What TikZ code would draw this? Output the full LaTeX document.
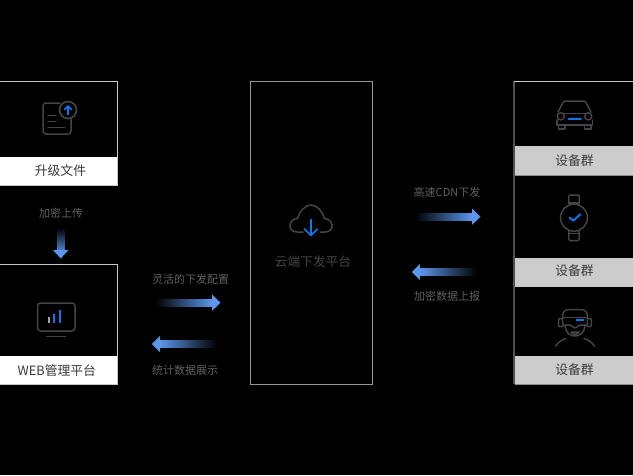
\documentclass[tikz,border=0pt]{standalone}
\usepackage{fontspec}
\setmainfont{Noto Sans CJK SC}
\definecolor{iconc}{HTML}{444444}
\definecolor{blueic}{HTML}{0A78F0}
\definecolor{arrowc}{HTML}{5A96EC}
\definecolor{dimtext}{HTML}{606060}
\definecolor{bandtext}{HTML}{3A3A3A}
\definecolor{edgelight}{HTML}{C8C8C8}
\definecolor{edgedark}{HTML}{505050}
\definecolor{greyband}{HTML}{CCCCCC}
\tikzset{
  icon/.style={draw=iconc,line width=1.5pt,line cap=round,line join=round},
  blueline/.style={draw=blueic,line width=1.7pt,line cap=round,line join=round},
  panel/.style={draw=edgelight,line width=1.1pt,fill=black,inner sep=0pt,anchor=north west},
  band/.style={draw=none,inner sep=0pt,anchor=north west},
  bandlab/.style={inner sep=0pt,text=bandtext,font=\fontsize{12.8}{15}\selectfont},
  lab/.style={text=dimtext,inner sep=0pt,font=\fontsize{11}{13}\selectfont},
  head/.style={fill=arrowc,draw=none},
}
% horizontal gradient arrow: tail x, base x, tip x, y, left colour, right colour
\newcommand{\hgrad}[6]{%
  \shade[left color=#5,right color=#6,draw=none] (#1,#4-3.4) rectangle (#2,#4+3.4);
  \fill[head] (#2,#4-8.2) -- (#3,#4) -- (#2,#4+8.2) -- cycle;}
\begin{document}
\begin{tikzpicture}[x=1pt,y=-1pt]
\useasboundingbox (0,0) rectangle (633,475);
\fill[black] (0,0) rectangle (633,475);

% left panels
\node[panel,minimum width=120pt,minimum height=103.5pt] (upgrade) at (-3,81) {};
\node[band,fill=white,minimum width=117pt,minimum height=28pt] (upgradeband) at (0,157) {};
\node[bandlab] (upgradelab) at (60.5,171) {升级文件};
\node[panel,minimum width=120pt,minimum height=119.5pt] (web) at (-3,264) {};
\node[band,fill=white,minimum width=117pt,minimum height=28pt] (webband) at (0,356) {};
\node[bandlab] (weblab) at (56.8,371) {WEB管理平台};

% centre panel
\node[panel,draw=edgelight!75!black,minimum width=121.5pt,minimum height=302.5pt] (cloud) at (250,81) {};
\node[text=iconc,inner sep=0pt,font=\fontsize{12.7}{15}\selectfont] (cloudlabel) at (313,261.5) {云端下发平台};

% right panel
\fill[black] (514,81) rectangle (633,384);
\node[band,fill=greyband,minimum width=119pt,minimum height=29pt] (band1) at (514,146) {};
\node[band,fill=greyband,minimum width=119pt,minimum height=28pt] (band2) at (514,258) {};
\node[band,fill=greyband,minimum width=119pt,minimum height=28pt] (band3) at (514,356) {};
\node[bandlab] (dev1) at (574.5,160.5) {设备群};
\node[bandlab] (dev2) at (574.5,270.5) {设备群};
\node[bandlab] (dev3) at (574.5,370) {设备群};
\draw[edgedark,line width=1.1pt] (514,81) -- (514,384);
\draw[edgelight,line width=0.9pt] (514,81) -- (633,81);
\draw[edgelight!70!black,line width=0.8pt] (514.5,175) -- (633,175);
\draw[edgelight,line width=0.8pt] (514.5,286) -- (633,286);
\draw[edgelight!70!black,line width=0.8pt] (514.5,384) -- (633,384);

% labels
\node[lab] (l1) at (61,213) {加密上传};
\node[lab] (l2) at (190.5,279) {灵活的下发配置};
\node[lab] (l3) at (185,370.5) {统计数据展示};
\node[lab] (l4) at (447,192.5) {高速CDN下发};
\node[lab] (l5) at (447,296) {加密数据上报};

% gradient arrows
\shade[top color=black,bottom color=arrowc!85!black,draw=none] (56.8,228) rectangle (64.5,250);
\fill[head] (53,250) -- (68.5,250) -- (60.7,258.5) -- cycle;
\hgrad{155}{212}{220.5}{302.7}{black}{arrowc}
\hgrad{217}{160}{152}{344}{arrowc}{black}
\hgrad{415}{472}{480.5}{216.7}{black}{arrowc}
\hgrad{477}{420}{412}{272}{arrowc}{black}

% document icon
\draw[icon,rounded corners=3pt] (60,103) -- (43,103) -- (43,134) -- (71,134) -- (71,119);
\draw[icon] (48,115.5) -- (56,115.5) (48,121.5) -- (56,121.5) (48,127.5) -- (64.5,127.5);
\draw[icon,line width=1.7pt] (68,110) circle[radius=8.5];
\draw[blueline] (68,114.5) -- (68,106) (64.5,109.5) -- (68,106) -- (71.5,109.5);

% monitor icon
\draw[icon,rounded corners=3pt] (37.5,303) rectangle (75,331);
\draw[icon] (47,336.5) -- (65.5,336.5);
\draw[draw=gray!70,line width=2pt] (48.7,317) -- (48.7,323);
\draw[draw=blueic,line width=2pt] (54.3,314) -- (54.3,323);
\draw[draw=blueic,line width=2pt] (60,310) -- (60,323);

% cloud icon
\draw[icon] (303,232) -- (297,232) .. controls (287,232) and (288,219) .. (297.5,218.5) .. controls (299,212) and (305,205) .. (311,205) .. controls (317,205) and (323,212) .. (324.5,218.5) .. controls (334,219) and (335,232) .. (325,232) -- (320,232);
\draw[blueline] (311,219.5) -- (311,235.5) (304.5,229) -- (311,235.5) -- (317.5,229);

% car icon
\draw[icon] (558,112) -- (563,102.5) -- (565,101) -- (584,101) -- (586,102.5) -- (591,112);
\draw[icon] (564.5,113.5) -- (584.5,113.5);
\draw[icon] (557,120) -- (557,125) -- (592.5,125) -- (592.5,120);
\draw[icon] (560.8,116.3) circle[radius=3.6] (588.2,116.3) circle[radius=3.6];
\draw[icon] (558.5,125) -- (558.5,129) -- (565,129) -- (565,125) (584.5,125) -- (584.5,129) -- (591,129) -- (591,125);
\draw[blueline] (568.5,119.3) -- (581,119.3);

% watch icon
\draw[icon] (574,217.7) circle[radius=13.5];
\draw[icon,rounded corners=1.5pt] (569,204) -- (568.5,195) -- (579.5,195) -- (579,204);
\draw[icon] (568.5,203) -- (579.5,203);
\draw[icon,rounded corners=1.5pt] (569,231) -- (568.5,240.5) -- (579.5,240.5) -- (579,231);
\draw[icon] (568.5,233.5) -- (579.5,233.5);
\draw[blueline,line width=1.9pt] (569.5,217.5) -- (573.3,220.7) -- (580.5,214.2);

% VR icon
\draw[icon] (562.7,325) -- (562.7,316) .. controls (562.7,312) and (565,309.5) .. (569,309.5) -- (581,309.5) .. controls (585,309.5) and (587.3,312) .. (587.3,316) -- (587.3,325);
\draw[icon] (562.7,317.5) -- (587.3,317.5);
\draw[icon] (562.7,325) -- (570,325) .. controls (572,325) and (573,328) .. (575,328) .. controls (577,328) and (578,325) .. (580,325) -- (587.3,325);
\draw[icon,rounded corners=1pt] (562.7,318.5) -- (558.5,318.5) -- (558.5,326.5) -- (562.7,326.5);
\draw[icon,rounded corners=1pt] (587.3,318.5) -- (591.3,318.5) -- (591.3,326.5) -- (587.3,326.5);
\draw[icon] (565,326) .. controls (566,333) and (570,336) .. (575,336) .. controls (580,336) and (584,333) .. (585,326);
\draw[icon] (571,332) .. controls (572,335) and (578,335) .. (579,332) -- cycle;
\draw[icon] (555.5,346) .. controls (559,341) and (564,339) .. (566,338.5);
\draw[icon] (584,338.5) .. controls (586,339) and (591,341) .. (594.5,346);
\draw[blueline] (576.5,319.7) -- (583.5,319.7);
\end{tikzpicture}
\end{document}
